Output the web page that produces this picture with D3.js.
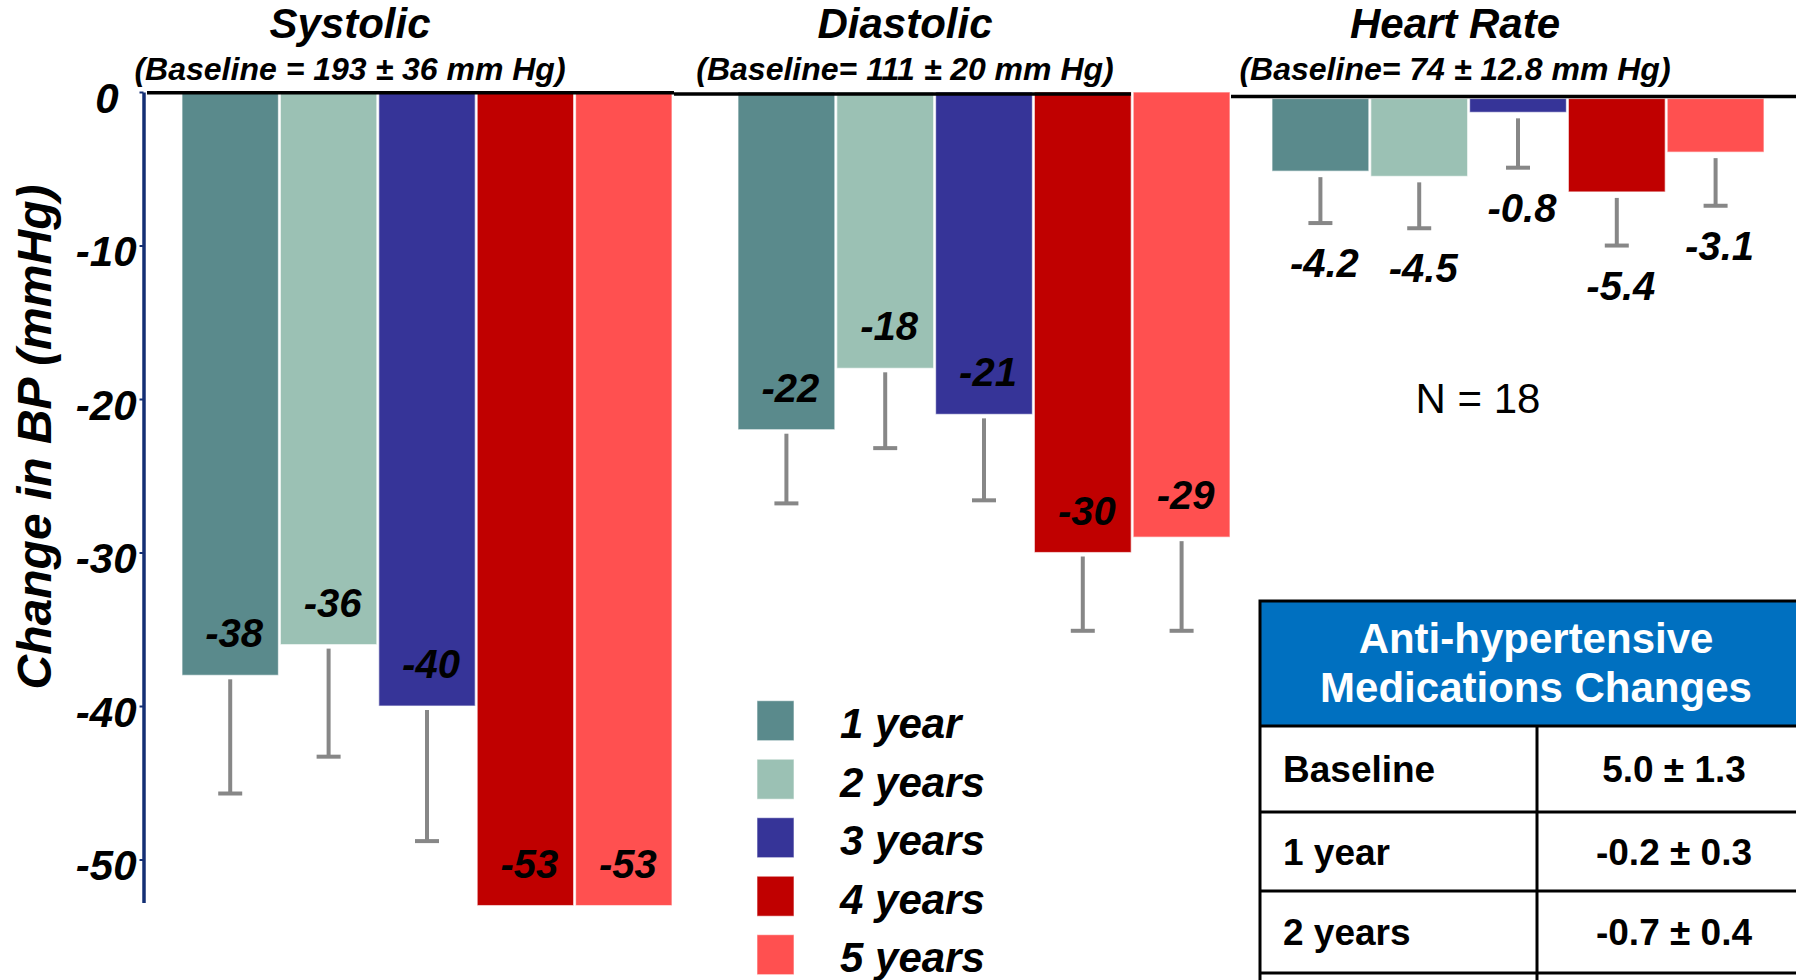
<!DOCTYPE html>
<html>
<head>
<meta charset="utf-8">
<script src="https://cdn.jsdelivr.net/npm/d3@7"></script>
<style>
  html, body { margin: 0; padding: 0; background: #ffffff; }
  svg { display: block; }
</style>
</head>
<body>
<script>
// ---------------- DATA ----------------
const series = ["1 year", "2 years", "3 years", "4 years", "5 years"];
const seriesColors = ["#5A8A8C", "#9BC1B4", "#363498", "#C00000", "#FF5050"];

const panelTitles = ["Systolic", "Diastolic", "Heart Rate"];
const panelSubtitles = [
  "(Baseline = 193 \u00B1 36 mm Hg)",
  "(Baseline= 111 \u00B1 20 mm Hg)",
  "(Baseline= 74 \u00B1 12.8 mm Hg)"
];

const systolic   = [-38, -36, -40, -53, -53];
const systolicSD = [7.7, 7.3, 8.8, null, null];

const diastolic   = [-22, -18, -21, -30, -29];
const diastolicSD = [4.8, 5.2, 5.6, 5.1, 6.1];

const heartRate   = [-4.2, -4.5, -0.8, -5.4, -3.1];
const heartRateSD = [3.0, 3.0, 3.2, 3.1, 3.1];

const yTicks = [0, -10, -20, -30, -40, -50];
const yTitle = "Change in BP (mmHg)";
const nText = "N = 18";

const tableTitle = ["Anti-hypertensive", "Medications Changes"];
const medRows = ["Baseline", "1 year", "2 years"];
const medValues = ["5.0 \u00B1 1.3", "-0.2 \u00B1 0.3", "-0.7 \u00B1 0.4"];

// ---------------- LAYOUT ----------------
const W = 1796, H = 980;
const FONT = "'Liberation Sans', Arial, Helvetica, sans-serif";

const svg = d3.select("body").append("svg")
  .attr("width", W).attr("height", H)
  .style("font-family", FONT);

svg.append("rect").attr("width", W).attr("height", H).attr("fill", "#fff");

const y = d3.scaleLinear().domain([0, -52.8]).range([92, 902.5]);
const yHR = d3.scaleLinear().domain([0, -10]).range([98.5, 271.5]);

const panelX = [[182, 672], [738, 1230], [1272, 1764]];
const titleCX = [350, 905, 1455];

const color = d3.scaleOrdinal().domain(series).range(seriesColors);

// Titles
svg.selectAll("text.ptitle").data(panelTitles).join("text")
  .attr("class", "ptitle")
  .attr("x", (d, i) => titleCX[i]).attr("y", 37.5)
  .attr("text-anchor", "middle")
  .attr("font-size", 42).attr("font-weight", "bold").attr("font-style", "italic")
  .text(d => d);

svg.selectAll("text.psub").data(panelSubtitles).join("text")
  .attr("class", "psub")
  .attr("x", (d, i) => titleCX[i]).attr("y", 80)
  .attr("text-anchor", "middle")
  .attr("font-size", 32).attr("font-weight", "bold").attr("font-style", "italic")
  .text(d => d);

// Panels
function drawPanel(values, sds, xr, ys, isHR) {
  const g = svg.append("g");
  const xb = d3.scaleBand().domain(series).range(xr).paddingInner(0.02).paddingOuter(0);
  const bw = xb.bandwidth();
  const rows = series.map((s, i) => ({ s, v: values[i], sd: sds[i] }));

  g.selectAll("rect").data(rows).join("rect")
    .attr("x", d => xb(d.s))
    .attr("y", ys(0))
    .attr("width", bw)
    .attr("height", d => ys(d.v) - ys(0))
    .attr("fill", d => color(d.s))
    .attr("stroke", "#ffffff").attr("stroke-opacity", 0.6).attr("stroke-width", 1.2);

  const eb = rows.filter(d => d.sd != null);
  const gap = isHR ? 6 : 4;
  g.selectAll("line.stem").data(eb).join("line")
    .attr("class", "stem")
    .attr("x1", d => xb(d.s) + bw / 2).attr("x2", d => xb(d.s) + bw / 2)
    .attr("y1", d => ys(d.v) + gap).attr("y2", d => ys(d.v - d.sd))
    .attr("stroke", "#878787").attr("stroke-width", 4);
  g.selectAll("line.cap").data(eb).join("line")
    .attr("class", "cap")
    .attr("x1", d => xb(d.s) + bw / 2 - 12).attr("x2", d => xb(d.s) + bw / 2 + 12)
    .attr("y1", d => ys(d.v - d.sd)).attr("y2", d => ys(d.v - d.sd))
    .attr("stroke", "#878787").attr("stroke-width", 4);

  g.selectAll("text").data(rows).join("text")
    .attr("x", d => xb(d.s) + bw / 2 + 4)
    .attr("y", d => isHR ? ys(d.v - d.sd) + 54 : ys(d.v) - 28)
    .attr("text-anchor", "middle")
    .attr("font-size", 40).attr("font-weight", "bold").attr("font-style", "italic")
    .attr("fill", "#000")
    .text(d => String(d.v));
}

drawPanel(systolic, systolicSD, panelX[0], y, false);
drawPanel(diastolic, diastolicSD, panelX[1], y, false);
drawPanel(heartRate, heartRateSD, panelX[2], yHR, true);

// Zero lines (one per panel)
const zeroSegs = [[147, 674, 92.7], [674, 1131, 94], [1231, 1796, 96.5]];
svg.selectAll("line.zero").data(zeroSegs).join("line")
  .attr("class", "zero")
  .attr("x1", d => d[0]).attr("x2", d => d[1])
  .attr("y1", d => d[2]).attr("y2", d => d[2])
  .attr("stroke", "#000").attr("stroke-width", 3.5);

// Y axis
const axisG = svg.append("g").attr("transform", "translate(143.5,0)")
  .call(d3.axisLeft(y).tickValues(yTicks).tickFormat(d => String(d))
    .tickSizeInner(4).tickSizeOuter(0).tickPadding(3));
axisG.select(".domain").attr("stroke", "#142F74").attr("stroke-width", 3.5);
axisG.selectAll(".tick line").attr("stroke", "#142F74").attr("stroke-width", 2);
axisG.selectAll(".tick text")
  .attr("dy", "0.48em")
  .attr("x", d => d === 0 ? -25 : -7)
  .attr("font-size", 42).attr("font-weight", "bold").attr("font-style", "italic")
  .attr("font-family", FONT).attr("fill", "#000");

svg.append("text")
  .attr("transform", "translate(51,437) rotate(-90)")
  .attr("text-anchor", "middle")
  .attr("font-size", 48).attr("font-weight", "bold").attr("font-style", "italic")
  .text(yTitle);

// Legend
const lg = svg.append("g");
lg.selectAll("rect").data(series).join("rect")
  .attr("x", 757).attr("y", (d, i) => 700.7 + i * 58.5)
  .attr("width", 37).attr("height", 40)
  .attr("fill", d => color(d))
  .attr("stroke", "#ffffff").attr("stroke-opacity", 0.6).attr("stroke-width", 1);
lg.selectAll("text").data(series).join("text")
  .attr("x", 840).attr("y", (d, i) => 700.7 + i * 58.5 + 37.5)
  .attr("font-size", 42).attr("font-weight", "bold").attr("font-style", "italic")
  .text(d => d);

// N = 18
svg.append("text")
  .attr("x", 1478).attr("y", 413)
  .attr("text-anchor", "middle")
  .attr("font-size", 42)
  .text(nText);

// Table
const tL = 1260, tR = 1812, tTop = 601, tHead = 726, colX = 1537;
const rowBounds = [726, 812, 891, 973, 1055];
const tg = svg.append("g");
tg.append("rect").attr("x", tL).attr("y", tTop).attr("width", tR - tL).attr("height", tHead - tTop)
  .attr("fill", "#0070C0");
tg.selectAll("text.th").data(tableTitle).join("text")
  .attr("class", "th")
  .attr("x", (tL + tR) / 2).attr("y", (d, i) => 653 + i * 48.7)
  .attr("text-anchor", "middle")
  .attr("font-size", 42).attr("font-weight", "bold").attr("fill", "#fff")
  .text(d => d);
tg.append("rect").attr("x", tL).attr("y", tTop).attr("width", tR - tL).attr("height", rowBounds[rowBounds.length - 1] - tTop)
  .attr("fill", "none").attr("stroke", "#000").attr("stroke-width", 3);
tg.selectAll("line.rb").data(rowBounds.slice(0, -1)).join("line")
  .attr("class", "rb")
  .attr("x1", tL).attr("x2", tR).attr("y1", d => d).attr("y2", d => d)
  .attr("stroke", "#000").attr("stroke-width", 3);
tg.append("line").attr("x1", colX).attr("x2", colX).attr("y1", tHead).attr("y2", rowBounds[rowBounds.length - 1])
  .attr("stroke", "#000").attr("stroke-width", 3);
tg.selectAll("text.rl").data(medRows).join("text")
  .attr("class", "rl")
  .attr("x", 1283).attr("y", (d, i) => (rowBounds[i] + rowBounds[i + 1]) / 2 + 13)
  .attr("font-size", 37).attr("font-weight", "bold")
  .text(d => d);
tg.selectAll("text.rv").data(medValues).join("text")
  .attr("class", "rv")
  .attr("x", 1674).attr("y", (d, i) => (rowBounds[i] + rowBounds[i + 1]) / 2 + 13)
  .attr("text-anchor", "middle")
  .attr("font-size", 37).attr("font-weight", "bold")
  .text(d => d);
</script>
</body>
</html>
